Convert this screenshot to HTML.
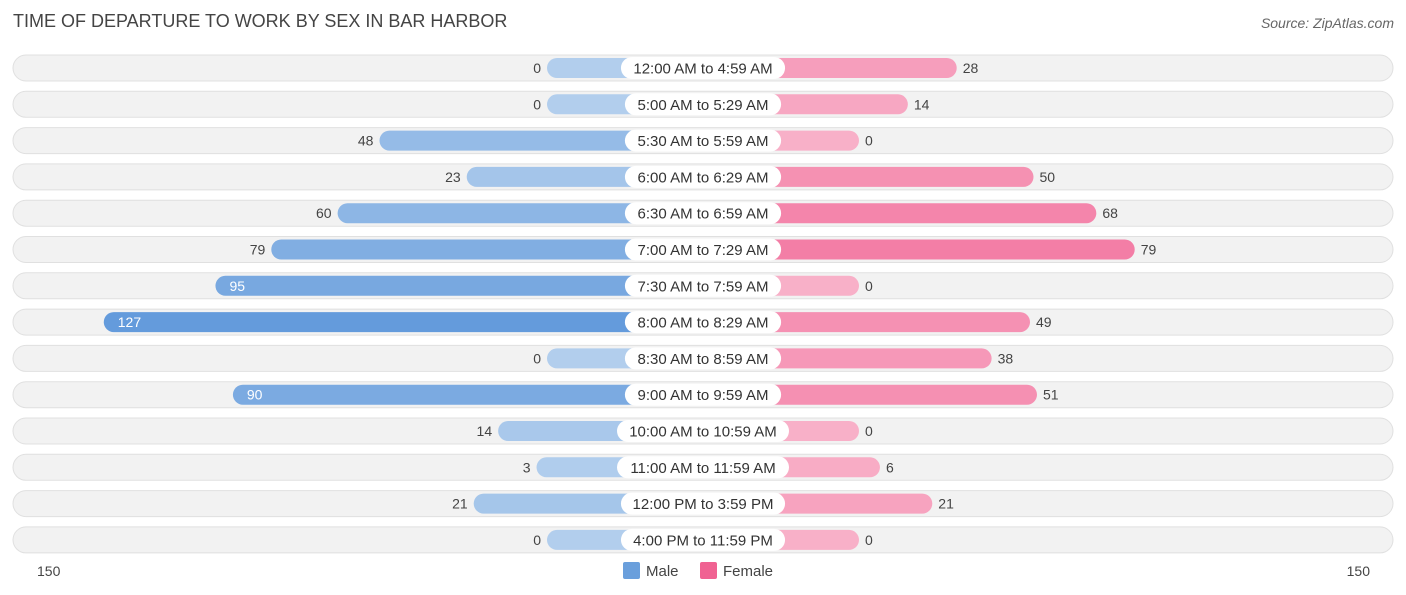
<!DOCTYPE html>
<html><head><meta charset="utf-8"><style>
body{margin:0;width:1406px;height:595px;background:#fff;font-family:"Liberation Sans",sans-serif;overflow:hidden;position:relative}
.title{position:absolute;left:13px;top:11px;font-size:18px;color:#444}
.src{position:absolute;right:12px;top:15px;font-size:14px;color:#666;font-style:italic}
</style></head><body>
<div class="title">TIME OF DEPARTURE TO WORK BY SEX IN BAR HARBOR</div>
<div class="src">Source: ZipAtlas.com</div>
<svg id="chart" width="1406" height="595" style="position:absolute;left:0;top:0"></svg>
<script>
const categories=["12:00 AM to 4:59 AM","5:00 AM to 5:29 AM","5:30 AM to 5:59 AM","6:00 AM to 6:29 AM","6:30 AM to 6:59 AM","7:00 AM to 7:29 AM","7:30 AM to 7:59 AM","8:00 AM to 8:29 AM","8:30 AM to 8:59 AM","9:00 AM to 9:59 AM","10:00 AM to 10:59 AM","11:00 AM to 11:59 AM","12:00 PM to 3:59 PM","4:00 PM to 11:59 PM"];
const male=[0,0,48,23,60,79,95,127,0,90,14,3,21,0];
const female=[28,14,0,50,68,79,0,49,38,51,0,6,21,0];
const axisLabels=["150","150"];
const NS="http://www.w3.org/2000/svg";
const svg=document.getElementById('chart');
const cx=703, off=156, scale=3.49, y0=68, step=36.3;
function xM(v){return cx-off-v*scale}
function xF(v){return cx+off+v*scale}
function yR(i){return y0+i*step}
function mix(a,b,t){return 'rgb('+a.map((c,k)=>Math.round(c+(b[k]-c)*t)).join(',')+')'}
const maxV=127;
function el(tag,attrs,txt){const e=document.createElementNS(NS,tag);for(const k in attrs)e.setAttribute(k,attrs[k]);if(txt!==undefined)e.textContent=txt;svg.appendChild(e);return e}
categories.forEach((c,i)=>{
  const y=yR(i);
  const bg=el('rect',{x:13,y:y-13,width:1380,height:26,rx:13,fill:'#f2f2f2',stroke:'#e0e0e0','stroke-width':1});
  
  
  const mv=male[i],fv=female[i];
  const mb=el('rect',{x:xM(mv),y:y-10,width:cx-xM(mv),height:20,rx:10,fill:mix([178,206,237],[100,155,220],mv/maxV)});
  
  
  const fb=el('rect',{x:cx,y:y-10,width:xF(fv)-cx,height:20,rx:10,fill:mix([248,176,200],[240,96,145],fv/maxV)});
  
  
  const w=c.length*7.9+14;
  const lb=el('rect',{x:cx-w/2,y:y-11,width:w,height:22,rx:11,fill:'#fff'});
  
  
  const lt=el('text',{x:cx,y:y+5.5,'text-anchor':'middle','font-size':15,fill:'#333'},c);
  
  
  let mt;
  if(mv>=85){mt=el('text',{x:xM(mv)+14,y:y+5,'font-size':14,fill:'#fff'},mv);}
  else{mt=el('text',{x:xM(mv)-6,y:y+5,'font-size':14,fill:'#444','text-anchor':'end'},mv);}
  
  
  const ft=el('text',{x:xF(fv)+6,y:y+5,'font-size':14,fill:'#444'},fv);
  
  
});
const a1=el('text',{x:37,y:576,'font-size':14,fill:'#444'},axisLabels[0]);


const a2=el('text',{x:1370,y:576,'font-size':14,fill:'#444','text-anchor':'end'},axisLabels[1]);


const ls1=el('rect',{x:623,y:562,width:17,height:17,rx:2,fill:'#6a9fdc'});


const lt1=el('text',{x:646,y:576,'font-size':15,fill:'#444'},'Male');


const ls2=el('rect',{x:700,y:562,width:17,height:17,rx:2,fill:'#f06292'});


const lt2=el('text',{x:723,y:576,'font-size':15,fill:'#444'},'Female');


</script>
</body></html>
